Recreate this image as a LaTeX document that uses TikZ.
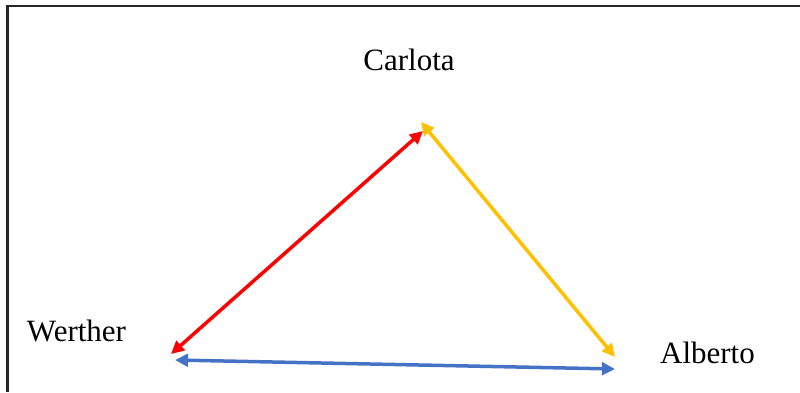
\documentclass[tikz,border=0pt]{standalone}
\usepackage{fontspec}
\setmainfont{Liberation Serif}
\usetikzlibrary{arrows.meta}
\definecolor{redarrow}{RGB}{255,0,0}
\definecolor{goldarrow}{RGB}{255,192,0}
\definecolor{bluearrow}{RGB}{68,114,196}
\tikzset{
  lbl/.style={anchor=base, inner sep=0pt, font=\fontsize{31}{36}\selectfont},
  rel/.style={line width=3.5pt, {Triangle[length=13pt,width=12.5pt]}-{Triangle[length=13pt,width=12.5pt]}},
  frame/.style={line width=2.2pt, black!85}
}
\begin{document}
\begin{tikzpicture}[x=1pt,y=-1pt]
\useasboundingbox (0,0) rectangle (800,392);
\fill[white] (0,0) rectangle (800,392);
\draw[frame] (7.5,392) -- (7.5,6) -- (800,6);
\node[lbl] (carlota) at (409,70) {Carlota};
\node[lbl] (werther) at (76.5,341) {Werther};
\node[lbl] (alberto) at (707.5,363) {Alberto};
\coordinate (wr) at (171,354);
\coordinate (cr) at (423,131);
\coordinate (cy) at (421,122);
\coordinate (ay) at (615,357);
\coordinate (wb) at (175,360);
\coordinate (ab) at (615,369);
\draw[rel, redarrow] (wr) -- (cr);
\draw[rel, goldarrow] (cy) -- (ay);
\draw[rel, bluearrow] (wb) -- (ab);
\end{tikzpicture}
\end{document}
